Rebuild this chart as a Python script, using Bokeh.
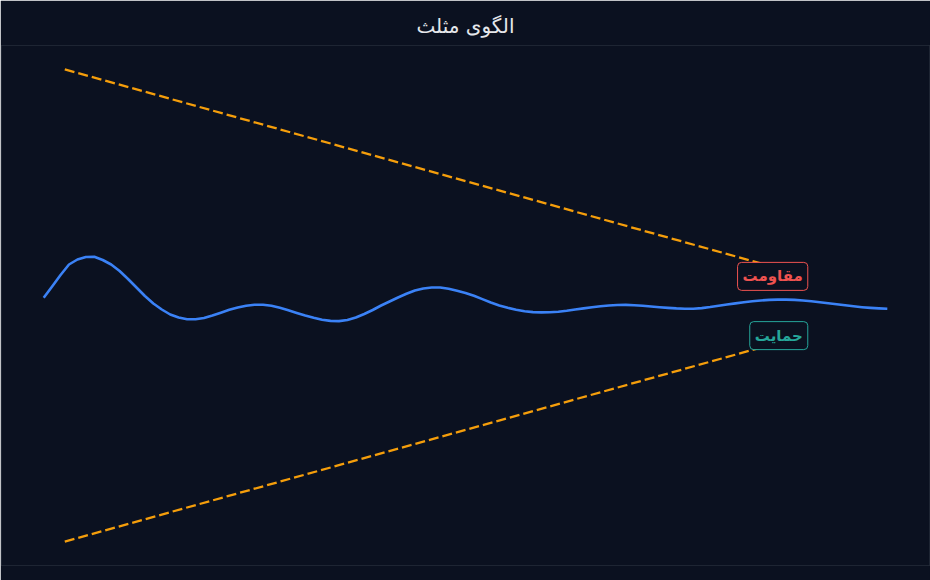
from bokeh.plotting import figure
from bokeh.models import Range1d, Label
from bokeh.embed import file_html
from bokeh.resources import INLINE

# price series
x_vals = list(range(0, 101))
y_vals = [102.96, 107.31, 111.73, 115.77, 117.69, 118.65, 118.73, 117.50, 115.77, 113.27,
          110.19, 106.92, 103.65, 100.77, 98.46, 96.54, 95.38, 94.69, 94.69, 95.19,
          96.15, 97.23, 98.35, 99.23, 99.92, 100.31, 100.31, 99.88, 99.12, 98.15,
          97.12, 96.15, 95.27, 94.50, 94.08, 94.00, 94.42, 95.38, 96.73, 98.27,
          100.00, 101.54, 103.08, 104.50, 105.77, 106.54, 106.92, 106.92, 106.42, 105.65,
          104.81, 103.73, 102.46, 101.15, 100.00, 99.12, 98.38, 97.81, 97.46, 97.35,
          97.38, 97.58, 97.96, 98.46, 98.88, 99.31, 99.69, 100.00, 100.19, 100.23,
          100.12, 99.88, 99.62, 99.35, 99.08, 98.88, 98.77, 98.77, 99.00, 99.42,
          99.92, 100.38, 100.81, 101.23, 101.62, 101.92, 102.15, 102.27, 102.27, 102.15,
          101.92, 101.62, 101.23, 100.85, 100.46, 100.08, 99.69, 99.35, 99.08, 98.88,
          98.73]

# trend lines
res_x = [2.5, 85]
res_y = [190.8, 116.2]
sup_x = [2.5, 85]
sup_y = [9.2, 83.8]

title_text = "الگوی مثلث"
res_label = "مقاومت"
sup_label = "حمایت"

BG = "#0b1120"
FONT = "DejaVu Sans"

p = figure(width=930, height=580, output_backend="svg", toolbar_location=None,
           x_range=Range1d(-5, 105), y_range=Range1d(0, 200),
           background_fill_color=BG, border_fill_color=BG,
           min_border_left=1, min_border_right=1, min_border_bottom=15,
           min_border_top=45)
p.axis.visible = False
p.grid.visible = False
p.outline_line_color = "#1e2533"
p.outline_line_width = 1

p.title.text = title_text
p.title.align = "center"
p.title.text_color = "#e5e7eb"
p.title.text_font = FONT
p.title.text_font_size = "20px"
p.title.text_font_style = "normal"
p.title.standoff = 16

p.line(res_x, res_y, line_color="#f59e0b", line_width=2.3, line_dash="10 4")
p.line(sup_x, sup_y, line_color="#f59e0b", line_width=2.3, line_dash="10 4")
p.line(x_vals, y_vals, line_color="#3b82f6", line_width=2.6, line_join="round")

lab1 = Label(x=res_x[-1], y=res_y[-1], x_offset=47, y_offset=-13, text=res_label,
             text_align="right", text_baseline="middle", text_color="#ef5350",
             text_font=FONT, text_font_size="15px", text_font_style="bold",
             border_line_color="#ef5350", border_line_width=1,
             background_fill_color=BG, padding=5, border_radius=4)
lab2 = Label(x=sup_x[-1], y=sup_y[-1], x_offset=47, y_offset=12, text=sup_label,
             text_align="right", text_baseline="middle", text_color="#26a69a",
             text_font=FONT, text_font_size="15px", text_font_style="bold",
             border_line_color="#26a69a", border_line_width=1,
             background_fill_color=BG, padding=5, border_radius=4)
p.add_layout(lab1)
p.add_layout(lab2)

open("out.html", "w").write(file_html(p, INLINE))
